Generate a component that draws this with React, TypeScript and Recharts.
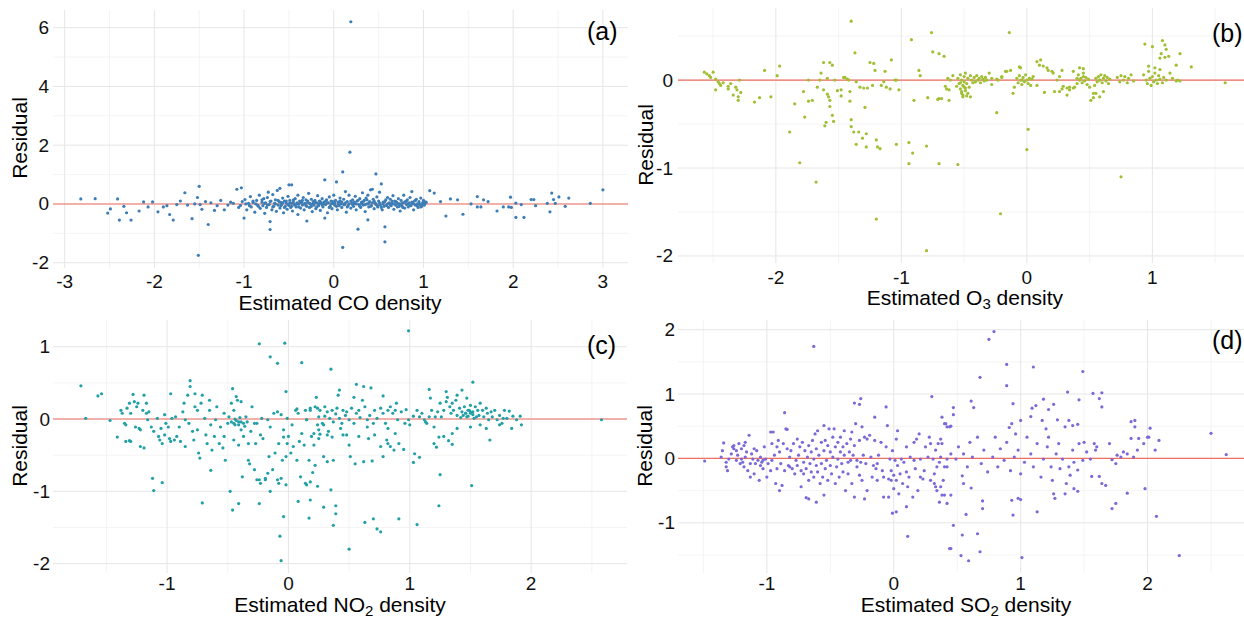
import React from "react";
import {
  ScatterChart,
  Scatter,
  XAxis,
  YAxis,
  ReferenceLine
} from "recharts";

type Pt = [number, number];

// (a) estimated CO density vs residual
const coPoints: Pt[] = [
  [-2.82,0.17],[-2.66,0.18],[-2.52,-0.31],[-2.49,-0.17],[-2.41,0.17],[-2.39,-0.55],[-2.34,-0.08],[-2.31,-0.3],
  [-2.26,-0.55],[-2.17,-0.24],[-2.12,0.07],[-2.07,-0.1],[-2.02,0.07],[-1.96,-0.27],[-1.9,-0.1],[-1.86,-0.06],
  [-1.83,-0.36],[-1.79,-0.55],[-1.75,-0.02],[-1.71,0.1],[-1.66,0.38],[-1.63,-0.04],[-1.58,-0.5],[-1.55,0.0],
  [-1.52,0.22],[-1.5,0.6],[-1.49,-0.02],[-1.47,-0.18],[-1.51,-1.75],[-1.43,0.08],[-1.4,-0.7],[-1.37,0.04],
  [-1.33,-0.22],[-1.3,-0.06],[-1.26,0.12],[-1.22,-0.2],[-1.18,-0.04],[-1.15,0.06],[-1.12,0.02],[-1.08,0.5],
  [-1.06,-0.12],[-1.03,0.55],
  [-1.04,-0.05],[-1.02,0.08],[-1.0,-0.48],[-0.99,0.15],[-0.97,-0.2],[-0.95,0.02],[-0.93,0.25],[-0.92,-0.1],
  [-0.9,0.05],[-0.88,-0.28],[-0.86,0.12],[-0.85,-0.04],[-0.83,0.3],[-0.82,-0.15],[-0.8,0.06],
  [-0.79,-0.06],[-0.78,0.18],[-0.77,-0.32],[-0.76,0.04],[-0.75,-0.12],[-0.74,0.22],[-0.73,0.4],[-0.72,-0.02],
  [-0.71,-0.87],[-0.71,-0.6],[-0.7,0.1],[-0.69,-0.2],[-0.68,0.32],[-0.67,-0.08],[-0.66,0.02],[-0.65,0.14],
  [-0.64,-0.25],[-0.63,0.46],[-0.62,-0.04],[-0.61,0.08],
  [-0.6,0.53],[-0.6,-0.14],[-0.59,0.05],[-0.58,-0.02],[-0.57,0.2],[-0.56,-0.3],[-0.55,0.1],[-0.54,-0.08],
  [-0.53,0.03],[-0.52,-0.18],[-0.51,0.26],[-0.5,0.65],[-0.5,-0.05],[-0.49,0.12],[-0.48,-0.12],[-0.47,0.65],
  [-0.47,0.02],[-0.46,-0.24],[-0.45,0.07],[-0.44,-0.02],[-0.43,0.18],[-0.42,-0.1],[-0.41,0.04],[-0.4,-0.36],
  [-0.4,0.3],[-0.39,0.0],[-0.38,0.1],[-0.37,-0.14],[-0.36,0.06],[-0.35,-0.04],[-0.34,0.22],[-0.33,-0.2],
  [-0.32,0.02],[-0.31,0.14],[-0.3,-0.58],[-0.3,-0.08],[-0.29,0.05],[-0.28,0.36],[-0.27,-0.12],[-0.26,0.0],
  [-0.25,0.16],[-0.24,-0.26],[-0.23,0.08],[-0.22,-0.04],[-0.21,0.12],[-0.2,-0.16],
  [-0.19,0.04],[-0.18,0.28],[-0.17,-0.06],[-0.16,0.1],[-0.15,-0.22],[-0.14,0.02],[-0.13,0.18],[-0.12,-0.1],
  [-0.11,0.06],[-0.1,0.82],[-0.1,-0.48],[-0.09,-0.02],[-0.08,0.14],[-0.07,-0.3],[-0.06,0.04],[-0.05,0.24],
  [-0.04,-0.08],[-0.03,0.1],[-0.02,-0.16],[-0.01,0.02],[0.0,0.3],
  [0.01,-0.04],[0.02,0.12],[0.03,0.75],[0.04,-0.2],[0.05,0.06],[0.06,-0.06],[0.07,0.2],[0.08,0.0],
  [0.09,-0.12],[0.1,1.09],[0.1,-1.48],[0.11,0.16],[0.12,-0.02],[0.13,0.42],[0.14,-0.28],[0.15,0.08],
  [0.16,-0.06],[0.17,0.3],[0.18,1.76],[0.19,6.2],[0.19,-0.14],[0.2,0.04],
  [0.21,0.14],[0.22,-0.08],[0.23,0.02],[0.24,0.26],[0.25,-0.2],[0.26,0.1],[0.27,-0.86],[0.28,-0.02],
  [0.29,0.18],[0.3,-0.12],[0.31,0.06],[0.32,0.38],[0.33,-0.04],[0.34,0.12],[0.35,-0.26],[0.36,0.2],
  [0.37,0.0],[0.38,-0.54],[0.38,0.3],[0.39,-0.1],[0.4,0.08],
  [0.41,0.48],[0.42,-0.06],[0.43,0.5],[0.44,0.16],[0.45,-0.16],[0.46,0.04],[0.47,1.02],[0.47,-0.02],
  [0.48,0.24],[0.49,-0.1],[0.5,0.1],[0.51,0.4],[0.52,-0.04],[0.53,0.68],[0.54,-0.2],[0.55,0.06],
  [0.56,-0.08],[0.57,-0.78],[0.57,-1.29],[0.58,0.14],[0.59,-0.02],[0.6,0.22],
  [0.61,-0.12],[0.62,0.04],[0.63,0.16],[0.64,-0.06],[0.65,0.02],[0.66,0.28],[0.67,-0.18],[0.68,0.1],
  [0.69,-0.04],[0.7,0.06],[0.71,-0.1],[0.72,0.18],[0.73,0.0],[0.74,-0.24],[0.75,0.12],[0.76,-0.06],
  [0.77,0.04],[0.78,0.3],[0.79,-0.14],[0.8,0.08],
  [0.81,-0.02],[0.82,0.14],[0.83,-0.1],[0.84,0.04],[0.85,0.22],[0.86,-0.06],[0.87,0.42],[0.88,0.02],
  [0.89,-0.2],[0.9,0.1],[0.91,-0.04],[0.92,0.16],[0.93,0.0],[0.94,-0.12],[0.95,0.08],[0.96,-0.02],
  [0.97,0.2],[0.98,-0.08],[0.99,0.04],[1.0,0.12],[1.01,-0.04],[1.02,0.02],[1.03,0.06],
  [-0.98,0.0],[-0.94,-0.06],[-0.9,0.1],[-0.87,0.0],[-0.84,-0.08],[-0.8,0.14],[-0.77,0.02],[-0.74,-0.04],
  [-0.71,0.08],[-0.68,-0.1],[-0.65,0.0],[-0.62,0.12],[-0.59,-0.06],[-0.57,0.04],[-0.55,-0.12],[-0.53,0.1],
  [-0.51,-0.02],[-0.49,0.04],[-0.47,-0.08],[-0.45,0.14],[-0.43,-0.04],[-0.41,0.0],[-0.39,-0.1],[-0.37,0.06],
  [-0.35,0.12],[-0.33,0.0],[-0.31,-0.06],[-0.29,0.1],[-0.27,0.02],[-0.25,-0.08],[-0.23,0.0],[-0.21,0.06],
  [-0.19,-0.1],[-0.17,0.0],[-0.15,0.08],[-0.13,-0.04],[-0.11,0.0],[-0.09,0.1],[-0.07,0.04],[-0.05,-0.12],
  [-0.03,0.0],[-0.01,0.08],[0.01,0.04],[0.03,-0.08],[0.05,0.0],[0.07,0.1],[0.09,0.06],[0.11,-0.02],
  [0.13,0.04],[0.15,-0.1],[0.17,0.0],[0.19,0.1],[0.21,-0.02],[0.23,0.06],[0.25,0.0],[0.27,0.12],
  [0.29,-0.08],[0.31,0.0],[0.33,0.08],[0.35,-0.02],[0.37,0.14],[0.39,0.02],[0.41,-0.08],[0.43,0.04],
  [0.45,0.1],[0.47,0.0],[0.49,-0.06],[0.51,0.04],[0.53,-0.12],[0.55,0.0],[0.57,0.08],[0.59,-0.06],
  [0.61,0.02],[0.63,-0.02],[0.65,0.1],[0.67,0.0],[0.69,0.08],[0.71,0.02],[0.73,-0.08],[0.75,0.0],
  [0.77,-0.12],[0.79,0.06],[0.81,0.1],[0.83,0.0],[0.85,-0.04],[0.87,0.06],[0.89,0.0],[0.91,0.12],
  [0.93,-0.06],[0.95,0.02],[0.97,-0.1],[0.99,0.0],[1.01,0.08],
  [1.07,0.45],[1.12,0.37],[1.19,0.08],[1.25,-0.41],[1.3,0.17],[1.38,0.14],[1.44,-0.35],[1.53,0.0],
  [1.6,0.25],[1.6,-0.1],[1.64,-0.1],[1.67,0.14],[1.72,0.08],[1.82,-0.24],[1.89,-0.1],[1.95,-0.1],
  [1.97,0.23],[1.98,-0.12],[2.03,0.03],[2.03,-0.46],[2.12,-0.46],[2.09,-0.02],[2.2,0.15],[2.23,0.15],
  [2.25,-0.06],[2.38,0.02],[2.41,-0.27],[2.43,0.37],[2.45,0.15],[2.47,0.02],[2.51,0.24],[2.58,-0.08],
  [2.62,0.2],[2.86,0.02],[3.0,0.48]
];

// (b) estimated O3 density vs residual
const o3Points: Pt[] = [
  [-2.57,0.09],[-2.55,0.07],[-2.53,0.05],[-2.52,0.03],[-2.5,0.09],[-2.48,0.01],[-2.48,-0.11],[-2.46,-0.02],
  [-2.45,-0.04],[-2.44,-0.06],[-2.42,-0.03],[-2.38,-0.07],[-2.38,-0.1],[-2.36,-0.04],[-2.32,-0.08],[-2.31,-0.11],
  [-2.34,-0.17],[-2.3,-0.19],[-2.3,-0.23],[-2.28,-0.14],[-2.29,0.0],
  [-2.17,-0.25],[-2.13,-0.2],[-2.09,0.11],[-2.04,-0.19],[-1.99,0.05],[-1.97,0.16],[-1.89,-0.59],[-1.85,-0.27],
  [-1.81,-0.94],[-1.78,-0.13],[-1.77,-0.42],[-1.74,0.0],[-1.74,-0.24],[-1.71,-0.23],[-1.68,-1.16],[-1.67,-0.08],
  [-1.65,0.0],[-1.64,0.08],[-1.62,-0.11],[-1.62,0.2],[-1.61,-0.52],[-1.6,-0.48],[-1.59,0.02],[-1.59,-0.16],
  [-1.58,-0.19],[-1.57,0.2],[-1.57,-0.23],[-1.57,-0.3],[-1.55,0.17],[-1.55,-0.4],[-1.54,-0.47],[-1.53,0.0],
  [-1.51,-0.12],[-1.48,-0.11],[-1.48,-0.18],[-1.46,0.03],[-1.45,0.03],[-1.43,0.01],[-1.42,0.0],[-1.41,-0.13],
  [-1.41,-0.24],[-1.4,-0.45],[-1.4,0.67],[-1.4,-0.53],[-1.38,-0.59],[-1.37,0.31],[-1.36,-0.73],[-1.36,-0.02],
  [-1.34,-0.59],[-1.33,-0.08],[-1.31,-0.66],[-1.3,-0.09],[-1.29,-0.31],[-1.28,-0.76],[-1.28,-0.61],[-1.27,-0.09],
  [-1.25,0.2],[-1.23,-0.06],[-1.22,0.19],[-1.21,0.11],[-1.2,-0.68],[-1.19,-0.76],[-1.2,-1.58],[-1.17,-0.78],
  [-1.16,-0.06],[-1.14,-0.02],[-1.13,0.1],[-1.12,-0.08],[-1.09,-0.1],[-1.08,0.23],[-1.05,0.0],[-1.04,0.0],
  [-1.04,-0.73],[-1.02,-0.11],[-0.94,-0.71],[-0.94,-0.95],[-0.92,0.46],[-0.91,-0.83],[-0.9,-0.23],[-0.86,0.11],
  [-0.85,0.05],[-0.8,-0.75],[-0.79,-0.2],[-0.8,-1.94],[-0.76,0.54],[-0.7,-0.95],[-0.7,-0.21],[-0.68,-0.21],
  [-0.65,-0.07],[-0.63,0.02],[-0.62,-0.11],[-0.62,-0.23],[-0.75,0.32],[-0.7,0.3],[-0.66,0.27],[-0.55,-0.96],
  [-0.71,-0.22],[-0.64,-0.1],[-0.61,0.0],[-0.59,0.05],[-0.56,-0.07],[-0.53,-0.03],[-0.52,-0.13],[-0.51,-0.17],
  [-0.49,-0.09],[-0.48,-0.18],[-0.47,-0.15],[-0.45,-0.19],[-0.53,-0.1],[-0.52,-0.15],[-0.51,-0.19],[-0.5,-0.08],
  [-0.49,-0.12],
  [-0.55,0.02],[-0.54,-0.04],[-0.53,0.06],[-0.52,0.0],[-0.51,-0.06],[-0.5,0.04],[-0.5,-0.02],[-0.49,0.08],
  [-0.48,-0.04],[-0.47,0.02],[-0.46,-0.08],[-0.45,0.05],[-0.44,0.0],[-0.43,-0.03],
  [-0.42,0.03],[-0.41,-0.02],[-0.4,0.05],[-0.39,0.0],[-0.38,0.02],[-0.37,-0.03],[-0.36,0.04],[-0.35,0.01],
  [-0.34,-0.01],[-0.33,0.03],[-0.32,0.0],
  [-0.3,0.08],[-0.28,-0.05],[-0.23,0.0],[-0.2,0.04],[-0.17,0.1],[-0.13,0.11],[-0.11,-0.15],[-0.05,0.14],
  [-0.04,0.0],[-0.28,0.02],[-0.24,0.01],[-0.2,0.03],[-0.16,0.1],[-0.14,0.54],[-0.1,-0.08],[-0.06,0.15],
  [-0.21,-1.52],[-0.24,-0.37],[0.01,-0.56],[0.0,-0.79],[0.75,-1.1],
  [-0.08,0.02],[-0.07,-0.03],[-0.06,0.05],[-0.05,0.0],[-0.04,-0.05],[-0.03,0.03],[-0.02,-0.02],[-0.01,0.06],
  [0.0,0.0],[0.01,-0.04],[0.02,0.02],[0.03,-0.06],[0.04,0.01],[0.05,0.04],
  [0.08,0.21],[0.1,0.17],[0.11,0.23],[0.13,0.16],[0.16,0.14],[0.17,0.11],[0.2,0.1],[0.21,0.08],
  [0.24,0.0],[0.26,0.04],[0.28,0.11],[0.29,-0.07],[0.26,-0.13],[0.22,-0.13],[0.14,-0.14],[0.32,-0.09],
  [0.34,-0.11],[0.37,-0.09],[0.38,-0.08],[0.4,-0.04],[0.41,0.06],[0.42,0.0],[0.45,0.13],
  [0.08,-0.06],[0.28,-0.1],[0.32,-0.17],[0.34,-0.08],[0.37,0.1],[0.4,0.02],[0.42,0.14],[0.45,0.08],
  [0.5,-0.08],[0.53,-0.2],[0.55,-0.15],[0.58,0.0],
  [0.43,0.02],[0.44,-0.03],[0.45,0.04],[0.46,-0.01],[0.47,0.03],[0.48,-0.05],[0.49,0.01],
  [0.51,-0.23],[0.53,-0.15],[0.58,-0.19],[0.61,-0.13],[0.54,-0.06],
  [0.55,0.02],[0.56,-0.02],[0.57,0.04],[0.58,0.0],[0.59,0.06],[0.6,-0.03],[0.61,0.02],[0.62,0.05],
  [0.63,-0.01],[0.64,0.03],[0.65,-0.04],[0.66,0.01],
  [0.72,0.03],[0.74,-0.02],[0.75,0.05],[0.77,0.0],[0.78,0.04],[0.8,-0.03],[0.81,0.02],[0.83,0.06],[0.85,-0.01],
  [0.93,0.06],[0.95,0.0],[0.96,-0.04],[0.97,0.1],[0.98,0.02],[0.99,-0.06],[1.0,0.04],[1.01,-0.02],
  [1.02,0.08],[1.03,0.0],[1.04,-0.04],[1.05,0.05],[1.06,0.01],[1.08,-0.03],[1.09,0.03],[1.11,0.0],
  [0.97,0.16],[1.02,0.14],[1.06,0.12],
  [0.94,0.41],[1.0,0.38],[1.08,0.45],[1.1,0.4],[1.11,0.35],[1.1,0.26],[1.13,0.27],[1.06,0.25],
  [1.07,0.3],[1.22,0.3],[1.19,0.17],[1.31,0.15],[1.16,0.02],[1.2,0.0],[1.14,0.08],[1.19,-0.01],
  [1.22,-0.01],[1.58,-0.03]
];

// (c) estimated NO2 density vs residual
const no2Points: Pt[] = [
  [-1.71,0.46],[-1.57,0.32],[-1.54,0.35],[-1.67,0.01],[-1.47,-0.02],[-1.41,-0.25],[-1.38,0.12],[-1.37,0.08],
  [-1.35,-0.06],[-1.34,-0.08],[-1.33,0.15],[-1.31,0.22],[-1.3,0.08],[-1.34,-0.31],[-1.31,-0.3],[-1.3,-0.31],
  [-1.28,0.34],[-1.27,0.24],[-1.24,0.22],[-1.25,0.17],[-1.26,-0.11],[-1.23,-0.13],[-1.22,-0.15],[-1.2,0.12],
  [-1.19,0.33],[-1.17,0.22],[-1.17,0.08],[-1.16,-0.01],[-1.15,0.1],[-1.13,-0.11],[-1.22,-0.38],[-1.19,-0.4],
  [-1.11,-0.17],[-1.08,0.01],[-1.07,-0.24],[-1.06,-0.29],[-1.05,-0.13],[-1.04,-0.34],[-1.02,-0.22],[-1.02,0.06],
  [-1.01,-0.06],[-0.99,-0.11],[-0.98,-0.27],[-0.97,0.35],[-0.97,-0.31],[-0.96,0.01],[-0.94,-0.29],[-0.93,0.03],
  [-0.92,-0.24],[-0.9,-0.11],[-0.89,-0.31],[-0.87,0.1],[-0.86,0.22],[-0.85,-0.01],[-0.85,-0.38],[-0.83,0.33],
  [-0.82,-0.06],[-0.81,0.53],[-0.81,0.45],[-0.79,-0.17],[-0.78,-0.29],[-0.77,0.17],[-0.77,0.35],[-0.75,0.12],
  [-0.75,-0.15],[-0.74,-0.47],[-0.73,-0.54],[-0.72,0.22],[-0.71,0.33],[-0.69,0.01],[-0.68,-0.22],[-0.67,-0.34],
  [-0.65,0.12],[-0.65,0.26],[-0.64,-0.08],[-0.63,-0.43],[-0.61,-0.24],[-0.6,-0.01],[-0.59,0.17],[-0.57,-0.34],
  [-0.56,-0.11],[-0.54,-0.4],[-0.53,0.08],[-0.53,-0.24],[-0.52,-0.57],[-0.5,-0.06],[-0.49,0.03],[-0.47,0.22],
  [-0.46,0.42],[-0.45,0.12],[-0.45,-0.29],[-0.44,-0.08],[-0.43,0.31],[-0.42,0.26],[-0.41,-0.04],[-0.41,-0.36],
  [-0.39,0.24],[-0.39,-0.15],[-0.38,-0.8],[-0.37,-0.06],[-0.37,-0.24],[-0.35,0.03],[-0.34,-0.04],[-0.33,-0.34],
  [-0.33,-0.57],[-0.31,-0.17],[-0.3,0.17],[-0.28,-0.06],[-0.28,-0.7],[-0.27,-0.34],[-0.26,-0.06],[-0.24,-0.84],
  [-0.23,-0.22],[-0.22,0.01],[-0.21,-0.27],[-0.19,-0.82],[-0.17,-0.01],[-0.16,-0.52],[-0.15,-0.11],[-0.13,-0.7],
  [-0.12,0.08],[-0.11,-0.47],[-0.09,-0.84],[-0.09,0.1],[-0.08,-0.34],[-0.06,0.06],[-0.05,-0.57],[-0.04,-0.15],
  [-0.02,-0.91],[-0.02,0.38],[-0.01,0.01],[0.0,-0.24],[0.02,-0.47],[0.03,-0.08],[0.04,-0.38],[0.06,0.12],
  [0.07,-0.57],[0.07,0.14],[0.08,0.08],[0.09,-0.31],[0.1,-0.8],[0.11,-0.2],[0.13,-0.36],[0.14,0.12],
  [0.15,-0.01],[0.15,-0.91],[0.17,-0.57],[0.18,0.15],[0.19,-0.24],[0.21,-0.36],[0.22,-0.64],[0.24,0.15],
  [0.24,-0.08],
  [-0.47,-0.04],[-0.45,-0.06],[-0.43,-0.02],[-0.41,-0.08],[-0.39,-0.04],[-0.36,-0.1],[-0.44,0.0],[-0.4,0.02],
  [-1.12,-0.82],[-1.11,-0.99],[-1.04,-0.88],[-0.71,-1.16],[-0.64,-0.71],[-0.48,-1.0],[-0.46,-1.26],[-0.41,-1.17],
  [-0.32,-0.62],[-0.24,-1.17],[-0.24,1.04],[-0.15,0.86],[-0.09,0.77],[-0.07,-1.62],[-0.06,-1.96],[-0.04,-1.35],
  [-0.03,1.05],[0.11,0.78],[-0.26,-0.84],[-0.23,-0.89],[-0.19,-0.84],[-0.17,-0.75],[-0.15,-1.0],
  [0.08,-1.14],[0.18,-1.12],[0.14,-0.89],[0.24,-0.93],[-0.02,-0.52],[-0.01,-0.34],[-0.04,-0.25],[-0.06,-0.82],
  [-0.08,-0.89],
  [0.35,0.69],[0.99,1.22],[1.52,0.51],[1.51,-0.92],[1.25,-0.77],[1.24,-1.2],[1.06,-1.46],[0.91,-1.38],
  [0.63,-1.43],[0.7,-1.38],[0.73,-1.52],[0.76,-1.56],[0.5,-1.8],[0.37,-1.47],[0.39,-1.31],[0.39,-1.2],
  [0.35,-0.98],[0.29,-1.22],[0.17,-1.37],[0.2,-0.74],[0.18,-0.87],[0.42,0.4],[0.56,0.48],[0.62,0.45],
  [0.68,0.43],[1.16,0.41],[2.58,-0.01],[1.92,-0.08],[1.91,0.04],[1.84,-0.13],[1.82,0.11],[1.77,0.01],
  [1.66,-0.29],
  [1.28,-0.24],[1.32,-0.3],[1.24,-0.25],[1.2,-0.34],[1.22,-0.39],[1.35,-0.35],[1.03,-0.6],[1.08,-0.53],
  [1.04,-0.48],[0.84,-0.38],[0.87,-0.43],[0.82,-0.34],[0.95,-0.42],[0.91,-0.34],[0.55,-0.62],[0.62,-0.59],
  [0.69,-0.58],[0.76,-0.38],[0.78,-0.52],[0.81,-0.29],[0.5,-0.36],[0.51,-0.52],[0.48,-0.22],[0.25,-0.27],
  [0.26,-0.21],[0.32,-0.22],[0.36,-0.25],[0.33,-0.17],[0.29,-0.52],[0.32,-0.59],[0.37,-0.57],
  [0.15,-0.01],[0.18,0.12],[0.22,0.17],[0.23,0.3],[0.25,0.03],[0.26,0.12],[0.28,-0.06],[0.3,0.17],
  [0.3,0.04],[0.32,0.1],[0.34,0.01],[0.36,0.12],[0.37,-0.04],[0.39,0.07],[0.4,0.15],[0.42,0.01],
  [0.44,-0.06],[0.45,0.12],[0.47,0.05],[0.48,0.1],[0.5,-0.01],[0.52,0.15],[0.54,-0.06],[0.56,0.08],
  [0.58,0.12],[0.59,0.02],[0.61,0.26],[0.63,0.17],[0.65,-0.01],[0.67,0.05],[0.7,-0.06],[0.71,0.12],
  [0.73,0.01],[0.76,0.15],[0.78,0.08],[0.8,-0.06],[0.82,0.12],[0.84,0.17],[0.86,0.08],[0.88,0.12],
  [0.89,0.22],[0.9,-0.01],[0.93,0.1],[0.96,-0.06],[0.97,0.13],[0.99,-0.01],[1.03,0.04],[1.06,0.12],
  [1.08,0.03],[1.1,0.08],[1.12,-0.01],[1.14,-0.06],[1.16,0.03],[1.18,0.12],[1.21,0.03],[1.23,0.1],
  [1.25,0.22],[1.26,0.03],[1.28,0.12],[1.3,0.24],[1.31,0.3],[1.33,0.17],[1.34,0.08],[1.35,0.22],
  [1.36,0.12],[1.38,0.26],[1.39,0.05],[1.41,0.15],[1.42,0.02],[1.43,0.1],[1.45,0.17],[1.46,0.08],
  [1.47,0.03],[1.48,0.12],[1.5,0.19],[1.5,0.08],[1.52,0.1],[1.53,0.01],[1.54,0.17],[1.56,0.12],
  [1.57,0.05],[1.58,0.22],[1.6,0.12],[1.61,0.03],[1.63,0.15],[1.64,0.08],[1.65,-0.01],[1.67,0.1],
  [1.68,0.03],[1.7,0.12],[1.72,-0.01],[1.74,0.05],[1.76,-0.06],[1.78,0.12],[1.8,0.01],[1.85,0.04],
  [1.88,-0.01],
  [0.21,-0.2],[0.25,-0.15],[0.29,-0.08],[0.43,-0.13],[0.45,-0.22],[0.58,-0.24],[0.65,-0.11],[0.66,-0.27],
  [0.71,-0.22],[0.82,-0.13],[0.88,-0.2],[1.0,-0.08],[1.13,-0.04],[1.2,-0.11],[1.35,-0.2],[1.39,-0.13],
  [1.5,-0.11],[1.58,-0.08],[1.63,-0.13],[1.74,-0.08],
  [0.41,0.33],[0.54,0.3],[0.78,0.32],[1.17,0.29],[1.3,0.38],[1.39,0.33],[1.47,0.29],[1.43,0.4],
  [1.44,0.05],[1.46,0.08],[1.48,0.04],[1.5,0.1],[1.52,0.06],[1.49,0.12],[1.55,0.03]
];

// (d) estimated SO2 density vs residual
const so2Points: Pt[] = [
  [-1.49,-0.04],[-0.63,1.74],[-0.01,-0.85],[0.02,-0.83],[0.11,-1.21],[0.1,-0.75],[0.44,-1.4],
  [-1.36,0.02],[-1.35,0.12],[-1.34,0.24],[-1.32,-0.06],[-1.32,-0.13],[-1.31,-0.19],[-1.3,-0.01],[-1.28,0.07],
  [-1.27,0.18],[-1.26,0.15],[-1.26,0.2],[-1.24,0.12],[-1.24,-0.03],[-1.23,0.05],[-1.22,0.23],[-1.21,-0.08],
  [-1.2,-0.01],[-1.2,0.15],[-1.19,-0.06],[-1.18,0.2],[-1.18,-0.13],[-1.17,0.25],[-1.17,0.02],[-1.16,0.1],
  [-1.15,-0.19],[-1.14,0.36],[-1.13,-0.08],[-1.13,-0.29],[-1.12,0.07],[-1.11,-0.01],[-1.1,0.15],[-1.1,-0.24],
  [-1.09,-0.08],[-1.08,0.12],[-1.07,-0.03],[-1.06,-0.34],[-1.05,0.02],[-1.05,-0.11],[-1.04,-0.06],[-1.03,-0.03],
  [-1.03,-0.16],[-1.02,0.18],[-1.01,-0.01],[-1.0,-0.29],[-0.99,-0.08],[-0.97,-0.19],[-0.97,0.41],[-0.96,0.23],
  [-0.96,-0.03],[-0.95,0.41],[-0.94,0.05],[-0.93,-0.39],[-0.92,0.18],[-0.92,-0.16],[-0.91,0.28],[-0.9,-0.5],
  [-0.9,0.1],[-0.89,-0.08],[-0.88,-0.42],[-0.87,0.23],[-0.86,0.71],[-0.86,-0.19],[-0.85,0.46],[-0.84,0.15],
  [-0.84,0.45],[-0.83,-0.11],[-0.82,0.02],[-0.82,-0.13],[-0.81,0.12],[-0.8,-0.16],[-0.79,0.23],[-0.78,-0.24],
  [-0.77,-0.03],[-0.76,0.3],[-0.76,-0.11],[-0.75,0.05],[-0.74,0.18],[-0.73,-0.44],[-0.73,-0.19],[-0.72,0.25],
  [-0.71,-0.06],[-0.71,-0.24],[-0.7,0.12],[-0.69,-0.61],[-0.69,-0.16],[-0.68,0.02],[-0.67,0.2],[-0.67,-0.63],
  [-0.67,-0.34],[-0.66,-0.08],[-0.65,0.1],[-0.65,-0.21],[-0.64,0.28],[-0.63,-0.01],[-0.63,-0.29],[-0.62,0.38],
  [-0.61,-0.68],[-0.61,-0.11],[-0.61,0.15],[-0.6,0.43],[-0.6,-0.21],[-0.59,0.05],[-0.58,-0.39],[-0.57,0.25],
  [-0.57,-0.08],[-0.56,-0.29],[-0.55,-0.57],[-0.55,0.12],[-0.55,0.51],[-0.54,-0.16],[-0.54,0.28],[-0.53,-0.03],
  [-0.52,-0.34],[-0.52,0.2],[-0.51,0.46],[-0.5,-0.11],[-0.5,0.1],[-0.49,-0.24],[-0.48,0.33],[-0.48,0.02],
  [-0.47,0.46],[-0.46,-0.39],[-0.46,0.18],[-0.45,-0.13],[-0.44,0.25],[-0.44,-0.01],[-0.43,-0.29],[-0.42,0.1],
  [-0.42,0.33],[-0.41,-0.08],[-0.4,0.18],[-0.4,-0.21],[-0.39,0.43],[-0.39,0.05],[-0.38,-0.5],[-0.37,0.23],
  [-0.36,-0.06],[-0.36,-0.24],[-0.35,0.1],[-0.34,0.3],[-0.34,-0.03],[-0.33,-0.39],[-0.33,0.41],[-0.32,0.05],
  [-0.31,0.86],[-0.31,-0.6],[-0.31,0.2],[-0.3,0.54],[-0.29,-0.13],[-0.29,-0.03],[-0.27,0.84],[-0.27,-0.26],
  [-0.27,0.28],[-0.26,0.93],[-0.26,-0.06],[-0.25,0.49],[-0.25,-0.34],[-0.24,0.05],[-0.23,-0.63],[-0.23,0.33],
  [-0.22,-0.08],[-0.21,0.3],[-0.21,-0.5],[-0.19,0.36],[-0.18,0.02],[-0.17,-0.29],[-0.16,-0.11],[-0.15,0.64],
  [-0.15,0.28],[-0.14,-0.16],[-0.13,-0.08],[-0.13,-0.34],[-0.12,0.05],[-0.1,0.25],[-0.09,-0.19],[-0.08,-0.6],
  [-0.08,-0.29],[-0.06,0.8],[-0.06,0.18],[-0.05,0.51],[-0.04,-0.32],[-0.04,-0.6],[-0.03,-0.01],[-0.02,-0.19],
  [-0.02,-0.34],[-0.01,0.12],[0.0,-0.47],[0.0,-0.26],[0.01,-0.03],[0.02,0.3],[0.02,-0.34],[0.03,0.43],
  [0.03,-0.11],[0.04,-0.55],[0.05,-0.24],[0.06,-0.01],[0.07,-0.39],[0.08,-0.06],[0.1,0.18],[0.1,-0.21],
  [0.11,-0.44],[0.12,-0.29],[0.13,0.02],[0.15,-0.6],[0.16,0.25],[0.16,-0.03],[0.17,-0.16],[0.18,0.3],
  [0.19,-0.5],[0.2,0.38],[0.21,-0.29],[0.21,-0.01],[0.23,-0.32],[0.24,-0.19],[0.25,0.18],[0.27,0.02],
  [0.28,0.33],[0.29,-0.34],[0.29,0.23],[0.3,0.96],[0.31,-0.01],[0.32,-0.24],[0.33,-0.44],[0.34,-0.5],
  [0.34,-0.13],[0.35,0.23],[0.36,-0.68],[0.37,0.02],[0.37,0.3],[0.38,-0.57],[0.38,0.64],[0.39,-0.34],
  [0.4,-0.13],[0.41,0.54],[0.42,-0.7],[0.42,-0.01],[0.44,0.49],
  [0.79,1.97],[0.75,1.85],[0.89,1.46],[1.1,1.42],[1.49,1.35],[0.68,1.26],[0.89,1.13],[1.37,1.03],
  [1.57,1.01],[1.64,1.02],[1.62,0.93],[1.64,0.8],[1.46,0.91],[1.18,0.92],[0.61,0.89],[0.63,0.79],
  [0.94,0.85],[1.09,0.78],[1.12,0.82],[1.22,0.76],[1.26,0.84],[0.47,0.79],[0.47,0.68],[2.5,0.39],
  [2.62,0.06],[2.07,-0.9],[2.25,-1.51],[1.98,-0.47],[1.84,-0.54],[1.75,-0.7],[1.72,-0.78],[1.56,-0.28],
  [1.62,-0.28],[1.64,-0.39],[1.67,-0.42],[1.13,-0.83],[1.01,-1.54],[0.57,-0.87],[0.47,-1.04],[0.54,-1.19],
  [0.45,-1.4],[0.53,-1.51],[0.59,-1.59],[0.68,-1.45],[0.66,-1.17],[0.7,-0.66],[0.7,-0.78],[0.93,-0.65],
  [0.98,-0.62],[1.0,-0.64],[0.94,-0.88],
  [1.26,-0.55],[1.27,-0.62],[1.35,-0.55],[1.42,-0.47],[1.45,-0.51],[1.39,-0.26],[1.45,-0.18],
  [0.55,-0.39],[0.61,-0.46],[0.54,-0.27],[0.37,-0.44],[0.32,-0.39],[0.4,-0.57],[0.45,-0.57],
  [0.4,0.54],[0.42,0.49],[0.45,0.5],[0.93,0.54],[1.0,0.59],[0.91,0.48],[0.96,0.38],[1.08,0.65],
  [1.17,0.59],[1.2,0.46],[1.29,0.6],[1.35,0.49],[1.38,0.59],[1.41,0.51],[1.45,0.53],[1.87,0.57],
  [1.9,0.59],[1.9,0.49],[2.02,0.47],[2.01,0.33],[1.93,0.31],
  [0.33,0.13],[0.36,-0.06],[0.38,0.23],[0.42,-0.13],[0.45,0.07],[0.49,-0.01],[0.51,0.18],[0.55,0.07],
  [0.58,-0.13],[0.6,0.25],[0.62,0.02],[0.66,0.33],[0.69,-0.08],[0.71,0.13],[0.74,-0.21],[0.78,0.02],
  [0.8,0.33],[0.82,-0.13],[0.84,0.15],[0.87,-0.03],[0.89,0.25],[0.92,-0.19],[0.95,0.02],[0.98,0.13],
  [1.0,-0.24],[1.03,-0.06],[1.05,0.33],[1.08,0.07],[1.1,-0.13],[1.13,0.23],[1.16,-0.29],[1.18,-0.01],
  [1.21,0.18],[1.22,0.33],[1.24,-0.13],[1.25,-0.34],[1.28,0.07],[1.3,0.23],[1.31,-0.16],[1.33,-0.01],
  [1.36,-0.39],[1.38,-0.13],[1.41,0.13],[1.42,-0.06],[1.46,0.23],[1.49,-0.03],[1.5,0.25],[1.52,0.1],
  [1.55,-0.01],[1.58,0.23],[1.59,0.13],[1.6,0.18],[1.7,0.23],[1.72,-0.02],[1.75,-0.08],[1.76,0.05],
  [1.79,0.02],[1.81,0.1],[1.84,0.07],[1.87,0.31],[1.89,0.02],[1.92,0.13],[1.97,0.23],[2.0,0.33],
  [2.06,0.13],[2.09,0.28]
];

// axis ticks and grid values
const coXTicks = [-3, -2, -1, 0, 1, 2, 3];
const coYTicks = [-2, 0, 2, 4, 6];
const coXMinor = [-2.5, -1.5, -0.5, 0.5, 1.5, 2.5];
const coYMinor = [-1, 1, 3, 5];

const o3XTicks = [-2, -1, 0, 1];
const o3YTicks = [-2, -1, 0];
const o3XMinor = [-2.5, -1.5, -0.5, 0.5, 1.5];
const o3YMinor = [-1.5, -0.5, 0.5];

const no2XTicks = [-1, 0, 1, 2];
const no2YTicks = [-2, -1, 0, 1];
const no2XMinor = [-1.5, -0.5, 0.5, 1.5, 2.5];
const no2YMinor = [-1.5, -0.5, 0.5];

const so2XTicks = [-1, 0, 1, 2];
const so2YTicks = [-1, 0, 1, 2];
const so2XMinor = [-1.5, -0.5, 0.5, 1.5, 2.5];
const so2YMinor = [-1.5, -0.5, 0.5, 1.5];

const FONT = '"Liberation Sans", Arial, Helvetica, sans-serif';
const TEXT = "#111";
const ZERO_LINE = "#ef6f62";
const TICK_SIZE = 19;

interface PanelProps {
  left: number;
  top: number;
  width: number;
  height: number;
  margin: { top: number; right: number; bottom: number; left: number };
  yAxisWidth: number;
  points: Pt[];
  color: string;
  xDomain: [number, number];
  yDomain: [number, number];
  xTicks: number[];
  yTicks: number[];
  xMinor: number[];
  yMinor: number[];
  xTickMargin: number;
  yTickMargin: number;
  xTitle: React.ReactNode;
  xTitlePos: [number, number];
  yTitlePos: [number, number];
}

// tick label drawn as plain svg text so the size and colour are exact
const makeTick = (axis: "x" | "y", gap: number) => (props: any) => {
  const { x, y, payload } = props;
  if (axis === "x") {
    return (
      <text
        x={x}
        y={y + gap}
        textAnchor="middle"
        dominantBaseline="hanging"
        fontSize={TICK_SIZE}
        fontFamily={FONT}
        fill={TEXT}
      >
        {payload.value}
      </text>
    );
  }
  return (
    <text
      x={x - gap}
      y={y}
      textAnchor="end"
      dominantBaseline="central"
      fontSize={TICK_SIZE}
      fontFamily={FONT}
      fill={TEXT}
    >
      {payload.value}
    </text>
  );
};

const Panel: React.FC<PanelProps> = (p) => {
  const data = p.points.map(([x, y]) => ({ x, y }));
  const dot = (props: any) => (
    <circle cx={props.cx} cy={props.cy} r={1.6} fill={p.color} />
  );

  return (
    <div style={{ position: "absolute", left: p.left, top: p.top }}>
      <ScatterChart width={p.width} height={p.height} margin={p.margin}>
        <XAxis
          type="number"
          dataKey="x"
          domain={p.xDomain}
          ticks={p.xTicks}
          allowDataOverflow
          axisLine={false}
          tickLine={false}
          tickSize={0}
          tickMargin={0}
          height={45}
          tick={makeTick("x", p.xTickMargin)}
          label={() => (
            <text
              x={p.xTitlePos[0]}
              y={p.xTitlePos[1]}
              textAnchor="middle"
              fontSize={21}
              fontFamily={FONT}
              fill="#000"
            >
              {p.xTitle}
            </text>
          )}
        />
        <YAxis
          type="number"
          dataKey="y"
          domain={p.yDomain}
          ticks={p.yTicks}
          allowDataOverflow
          axisLine={false}
          tickLine={false}
          tickSize={0}
          tickMargin={0}
          width={p.yAxisWidth}
          tick={makeTick("y", p.yTickMargin)}
          label={() => (
            <text
              x={p.yTitlePos[0]}
              y={p.yTitlePos[1]}
              transform={`rotate(-90, ${p.yTitlePos[0]}, ${p.yTitlePos[1]})`}
              textAnchor="middle"
              dominantBaseline="central"
              fontSize={21}
              fontFamily={FONT}
              fill="#000"
            >
              Residual
            </text>
          )}
        />
        {p.yMinor.map((v) => (
          <ReferenceLine key={`ym${v}`} y={v} stroke="#f1f1f1" strokeWidth={0.8} />
        ))}
        {p.xMinor.map((v) => (
          <ReferenceLine key={`xm${v}`} x={v} stroke="#f1f1f1" strokeWidth={0.8} />
        ))}
        {p.yTicks.map((v) => (
          <ReferenceLine key={`yM${v}`} y={v} stroke="#e6e6e6" strokeWidth={1} />
        ))}
        {p.xTicks.map((v) => (
          <ReferenceLine key={`xM${v}`} x={v} stroke="#e6e6e6" strokeWidth={1} />
        ))}
        <Scatter data={data} dataKey="y" shape={dot} isAnimationActive={false} />
        <ReferenceLine y={0} stroke={ZERO_LINE} strokeWidth={1.1} />
      </ScatterChart>
    </div>
  );
};

const sub = (s: string) => (
  <>
    <tspan dy={4} fontSize={15}>{s}</tspan>
    <tspan dy={-4}> density</tspan>
  </>
);

const App: React.FC = () => {
  const tags = [
    { t: "(a)", x: 587, y: 40 },
    { t: "(b)", x: 1212, y: 42 },
    { t: "(c)", x: 587, y: 354 },
    { t: "(d)", x: 1212, y: 349 }
  ];
  return (
    <div
      style={{
        position: "absolute",
        left: 0,
        top: 0,
        width: 1244,
        height: 620,
        overflow: "hidden",
        background: "#fff",
        fontFamily: FONT
      }}
    >
      <Panel
        left={0}
        top={0}
        width={640}
        height={320}
        margin={{ top: 10, right: 12, bottom: 7, left: 8 }}
        yAxisWidth={45}
        points={coPoints}
        color="#3d7db6"
        xDomain={[-3.13, 3.28]}
        yDomain={[-2.18, 6.6]}
        xTicks={coXTicks}
        yTicks={coYTicks}
        xMinor={coXMinor}
        yMinor={coYMinor}
        xTickMargin={6}
        yTickMargin={4}
        xTitle="Estimated CO density"
        xTitlePos={[340, 310]}
        yTitlePos={[19, 138]}
      />
      <Panel
        left={630}
        top={0}
        width={614}
        height={320}
        margin={{ top: 8, right: 0, bottom: 12, left: 8 }}
        yAxisWidth={40}
        points={o3Points}
        color="#a0bf32"
        xDomain={[-2.78, 1.73]}
        yDomain={[-2.08, 0.82]}
        xTicks={o3XTicks}
        yTicks={o3YTicks}
        xMinor={o3XMinor}
        yMinor={o3YMinor}
        xTickMargin={7}
        yTickMargin={5}
        xTitle={<><tspan>Estimated O</tspan>{sub("3")}</>}
        xTitlePos={[335, 305]}
        yTitlePos={[15, 145]}
      />
      <Panel
        left={0}
        top={310}
        width={640}
        height={310}
        margin={{ top: 10, right: 13, bottom: 2, left: 8 }}
        yAxisWidth={45}
        points={no2Points}
        color="#22a0a6"
        xDomain={[-1.94, 2.79]}
        yDomain={[-2.13, 1.37]}
        xTicks={no2XTicks}
        yTicks={no2YTicks}
        xMinor={no2XMinor}
        yMinor={no2YMinor}
        xTickMargin={3}
        yTickMargin={3}
        xTitle={<><tspan>Estimated NO</tspan>{sub("2")}</>}
        xTitlePos={[340, 302]}
        yTitlePos={[19, 136]}
      />
      <Panel
        left={630}
        top={310}
        width={614}
        height={310}
        margin={{ top: 10, right: 0, bottom: 2, left: 8 }}
        yAxisWidth={40}
        points={so2Points}
        color="#7b69d8"
        xDomain={[-1.7, 2.76]}
        yDomain={[-1.78, 2.15]}
        xTicks={so2XTicks}
        yTicks={so2YTicks}
        xMinor={so2XMinor}
        yMinor={so2YMinor}
        xTickMargin={3}
        yTickMargin={3}
        xTitle={<><tspan>Estimated SO</tspan>{sub("2")}</>}
        xTitlePos={[336, 302]}
        yTitlePos={[14, 136]}
      />
      <svg
        width={1244}
        height={620}
        style={{ position: "absolute", left: 0, top: 0, pointerEvents: "none" }}
      >
        {tags.map((g) => (
          <text key={g.t} x={g.x} y={g.y} fontSize={25} fontFamily={FONT} fill="#000">
            {g.t}
          </text>
        ))}
      </svg>
    </div>
  );
};

export default App;
